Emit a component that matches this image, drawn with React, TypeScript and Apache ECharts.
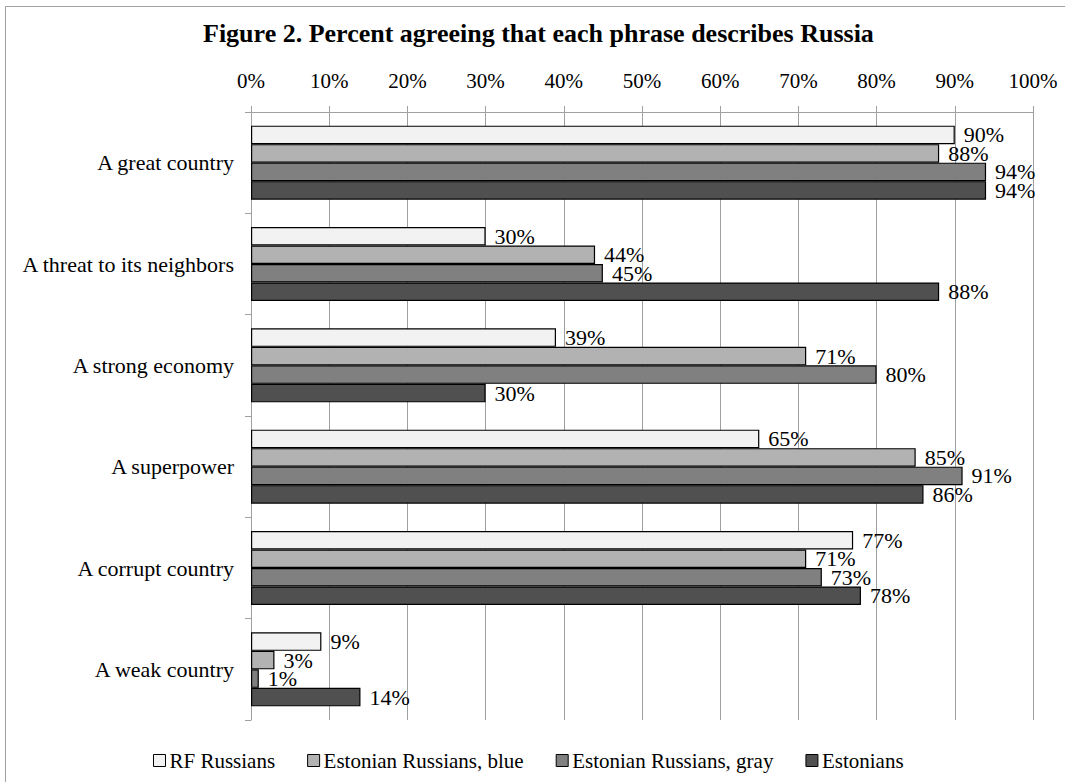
import React, { useEffect, useRef } from "react";
import * as echarts from "echarts";

const categories = [
  "A great country",
  "A threat to its neighbors",
  "A strong economy",
  "A superpower",
  "A corrupt country",
  "A weak country",
];
const seriesNames = [
  "RF Russians",
  "Estonian Russians, blue",
  "Estonian Russians, gray",
  "Estonians",
];
const rfRussians = [90, 30, 39, 65, 77, 9];
const estRussiansBlue = [88, 44, 71, 85, 71, 3];
const estRussiansGray = [94, 45, 80, 91, 73, 1];
const estonians = [94, 88, 30, 86, 78, 14];
const seriesColors = ["#f2f2f2", "#b2b2b2", "#808080", "#505050"];
const xTicks = [0, 10, 20, 30, 40, 50, 60, 70, 80, 90, 100];

const FONT = "'Liberation Serif', 'Times New Roman', serif";

export default function App() {
  const ref = useRef<HTMLDivElement>(null);
  useEffect(() => {
    if (!ref.current) return;
    const chart = echarts.init(ref.current, undefined, { renderer: "svg" });
    const data = [rfRussians, estRussiansBlue, estRussiansGray, estonians];
    chart.setOption({
      animation: false,
      backgroundColor: "#ffffff",
      textStyle: { fontFamily: FONT },
      title: {
        text: "Figure 2. Percent agreeing that each phrase describes Russia",
        left: 203,
        top: 20,
        padding: 0,
        textStyle: { fontFamily: FONT, fontWeight: "bold", fontSize: 26, color: "#000" },
      },
      graphic: [
        {
          type: "rect",
          shape: { x: 5.5, y: 6.5, width: 1100, height: 900 },
          style: { fill: "none", stroke: "#a0a0a0", lineWidth: 1 },
          silent: true,
        },
      ],
      legend: {
        data: seriesNames,
        left: 148,
        top: 745,
        icon: "rect",
        itemWidth: 12,
        itemHeight: 12,
        itemGap: 32,
        textStyle: { fontFamily: FONT, fontSize: 21, color: "#000", padding: [0, 0, 0, -1] },
        itemStyle: { borderColor: "#000", borderWidth: 1 },
      },
      grid: { left: 251, right: 32, top: 112, bottom: 62, containLabel: false },
      xAxis: {
        type: "value",
        position: "top",
        min: 0,
        max: 100,
        interval: 10,
        axisLine: { show: true, lineStyle: { color: "#a0a0a0", width: 1 } },
        axisTick: { show: true, length: 6, lineStyle: { color: "#a0a0a0" } },
        splitLine: { show: true, lineStyle: { color: "#a0a0a0", width: 1 } },
        axisLabel: {
          margin: 21,
          fontFamily: FONT,
          fontSize: 21,
          color: "#000",
          formatter: (v: number) => (xTicks.includes(v) ? v + "%" : ""),
        },
      },
      yAxis: {
        type: "category",
        inverse: true,
        data: categories,
        axisLine: { show: true, lineStyle: { color: "#a0a0a0", width: 1 } },
        axisTick: { show: true, length: 6, lineStyle: { color: "#a0a0a0" } },
        axisLabel: { margin: 17, fontFamily: FONT, fontSize: 22, color: "#000" },
        splitLine: { show: false },
      },
      series: seriesNames.map((name, i) => ({
        name,
        type: "bar",
        data: data[i],
        barWidth: 18.5,
        barGap: "0%",
        itemStyle: { color: seriesColors[i], borderColor: "#000", borderWidth: 1.2 },
        label: {
          show: true,
          position: "right",
          distance: 9,
          formatter: "{c}%",
          fontFamily: FONT,
          fontSize: 22,
          color: "#000",
        },
      })),
    });
    return () => chart.dispose();
  }, []);
  return (
    <div
      ref={ref}
      style={{ position: "fixed", left: 0, top: 0, width: 1065, height: 782 }}
    />
  );
}
